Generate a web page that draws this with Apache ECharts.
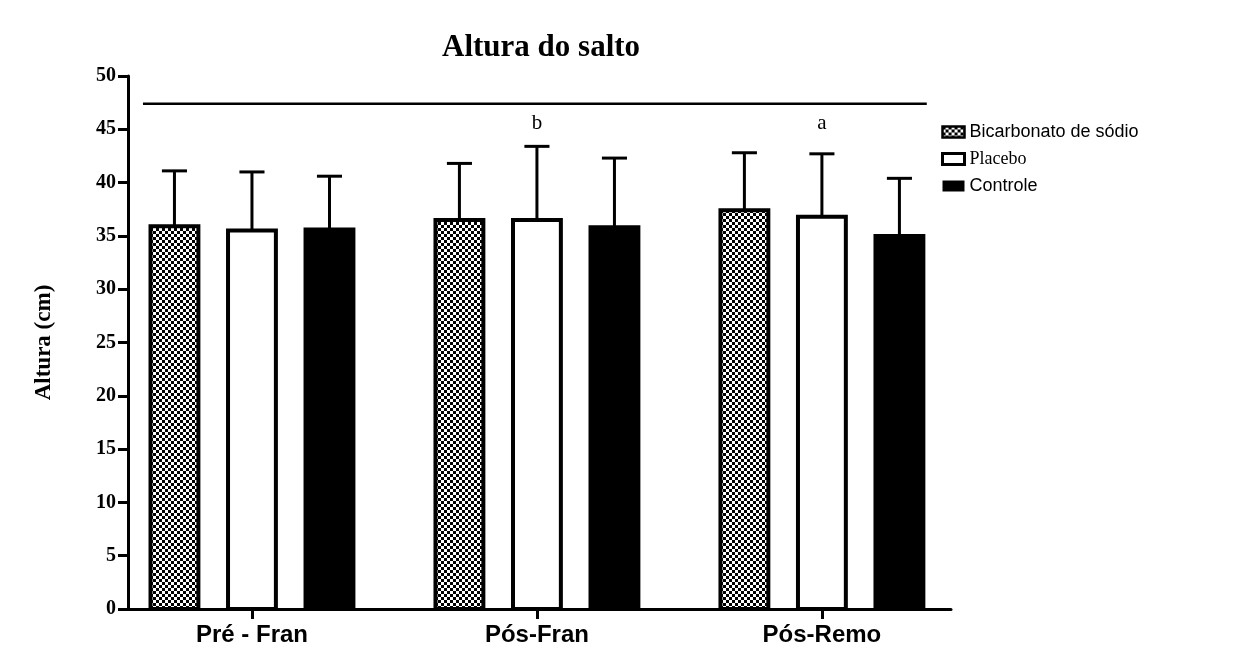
<!DOCTYPE html>
<html>
<head>
<meta charset="utf-8">
<script src="https://cdn.jsdelivr.net/npm/echarts@6/dist/echarts.min.js"></script>
<style>
  html, body { margin: 0; padding: 0; background: #fff; }
  #main { width: 1253px; height: 653px; }
</style>
</head>
<body>
<div id="main"></div>
<script>
// dados
var categorias = ['Pré - Fran', 'Pós-Fran', 'Pós-Remo'];
var grupos = ['Bicarbonato de sódio', 'Placebo', 'Controle'];
var mediaBic = [35.9, 36.5, 37.4];
var dpBic = [5.2, 5.3, 5.4];
var mediaPla = [35.5, 36.5, 36.8];
var dpPla = [5.5, 6.9, 5.9];
var mediaCon = [35.6, 35.8, 35.0];
var dpCon = [5.0, 6.5, 5.4];
var letrasPla = ['', 'b', 'a'];
var yTicks = [0, 5, 10, 15, 20, 25, 30, 35, 40, 45, 50];
var linhaSig = [[0.6175, 47.4], [3.368, 47.4]];

var serif = '"Liberation Serif", "DejaVu Serif", serif';
var sans = '"Liberation Sans", Arial, sans-serif';

// padrão xadrez
var cv = document.createElement('canvas');
cv.width = 6; cv.height = 6;
var ctx = cv.getContext('2d');
ctx.fillStyle = '#fff';
ctx.fillRect(0, 0, 6, 6);
ctx.fillStyle = '#000';
ctx.fillRect(0, 0, 3, 3);
ctx.fillRect(3, 3, 3, 3);
var xadrez = { image: cv, repeat: 'repeat' };

var larguraBarra = 0.168;   // em unidades do eixo x
var larguraCap = 0.088;

function montaDados(media, dp) {
    var d = [];
    for (var i = 0; i < media.length; i++) {
        d.push([i + 1, media[i], dp[i]]);
    }
    return d;
}

function renderBarra(desloc, fill, letras) {
    return function (params, api) {
        var x = api.value(0) + desloc;
        var v = api.value(1);
        var e = api.value(2);
        var base = api.coord([x, 0]);
        var topo = api.coord([x, v]);
        var cap = api.coord([x, v + e]);
        var w = api.size([larguraBarra, 0])[0];
        var cw = api.size([larguraCap, 0])[0];
        var filhos = [
            {
                type: 'line',
                shape: { x1: topo[0], y1: topo[1], x2: cap[0], y2: cap[1] },
                style: { stroke: '#000', lineWidth: 3 }
            },
            {
                type: 'line',
                shape: { x1: cap[0] - cw / 2, y1: cap[1], x2: cap[0] + cw / 2, y2: cap[1] },
                style: { stroke: '#000', lineWidth: 3 }
            },
            {
                type: 'rect',
                shape: { x: base[0] - w / 2, y: topo[1], width: w, height: base[1] - topo[1] },
                style: { fill: fill, stroke: '#000', lineWidth: 4 }
            }
        ];
        var letra = letras && letras[params.dataIndex];
        if (letra) {
            var p = api.coord([x, 44.6]);
            filhos.push({
                type: 'text',
                x: p[0], y: p[1],
                style: {
                    text: letra, fill: '#000',
                    font: '21px ' + serif,
                    align: 'center', verticalAlign: 'bottom'
                }
            });
        }
        return { type: 'group', children: filhos };
    };
}

var myChart = echarts.init(document.getElementById('main'));

var option = {
    animation: false,
    title: {
        text: 'Altura do salto',
        left: 437,
        top: 27,
        textStyle: { fontFamily: serif, fontWeight: 'bold', fontSize: 31, color: '#000' }
    },
    legend: {
        orient: 'vertical',
        left: 936,
        top: 118,
        itemWidth: 22,
        itemHeight: 11,
        itemGap: 9,
        data: [
            { name: grupos[0], icon: 'rect', itemStyle: { color: xadrez, borderColor: '#000', borderWidth: 2.5 },
              textStyle: { fontFamily: sans, fontSize: 18, color: '#000' } },
            { name: grupos[1], icon: 'rect', itemStyle: { color: '#fff', borderColor: '#000', borderWidth: 3 },
              textStyle: { fontFamily: serif, fontSize: 18, color: '#000' } },
            { name: grupos[2], icon: 'rect', itemStyle: { color: '#000', borderColor: '#000', borderWidth: 0 },
              textStyle: { fontFamily: sans, fontSize: 18, color: '#000' } }
        ]
    },
    grid: { left: 128, right: 302, top: 76, bottom: 44 },
    xAxis: {
        type: 'value',
        min: 0.565,
        max: 3.453,
        splitLine: { show: false },
        axisLine: { show: true, onZero: false, lineStyle: { color: '#000', width: 3 } },
        axisTick: { show: true, customValues: [1, 2, 3], length: 10, lineStyle: { color: '#000', width: 3 } },
        axisLabel: {
            customValues: [1, 2, 3],
            formatter: function (v) { return categorias[Math.round(v) - 1]; },
            fontFamily: sans, fontWeight: 'bold', fontSize: 24, color: '#000', margin: 14
        }
    },
    yAxis: {
        type: 'value',
        min: 0,
        max: 50,
        interval: 5,
        name: 'Altura (cm)',
        nameLocation: 'middle',
        nameRotate: 90,
        nameGap: 72,
        nameTextStyle: { fontFamily: serif, fontWeight: 'bold', fontSize: 23, color: '#000' },
        splitLine: { show: false },
        axisLine: { show: true, lineStyle: { color: '#000', width: 3 } },
        axisTick: { show: true, length: 10, lineStyle: { color: '#000', width: 3 } },
        axisLabel: {
            fontFamily: serif, fontWeight: 'bold', fontSize: 20, color: '#000', margin: 12,
            formatter: function (v) { return yTicks.indexOf(v) >= 0 ? String(v) : ''; }
        }
    },
    series: [
        {
            name: grupos[0],
            type: 'custom',
            itemStyle: { color: xadrez },
            renderItem: renderBarra(-0.272, xadrez),
            data: montaDados(mediaBic, dpBic)
        },
        {
            name: grupos[1],
            type: 'custom',
            itemStyle: { color: '#fff' },
            renderItem: renderBarra(0, '#fff', letrasPla),
            data: montaDados(mediaPla, dpPla)
        },
        {
            name: grupos[2],
            type: 'custom',
            itemStyle: { color: '#000' },
            renderItem: renderBarra(0.272, '#000'),
            data: montaDados(mediaCon, dpCon)
        },
        {
            // linha de significância
            name: 'sig',
            type: 'line',
            symbol: 'none',
            silent: true,
            lineStyle: { color: '#000', width: 2.5 },
            data: linhaSig
        }
    ]
};

myChart.setOption(option);
</script>
</body>
</html>
